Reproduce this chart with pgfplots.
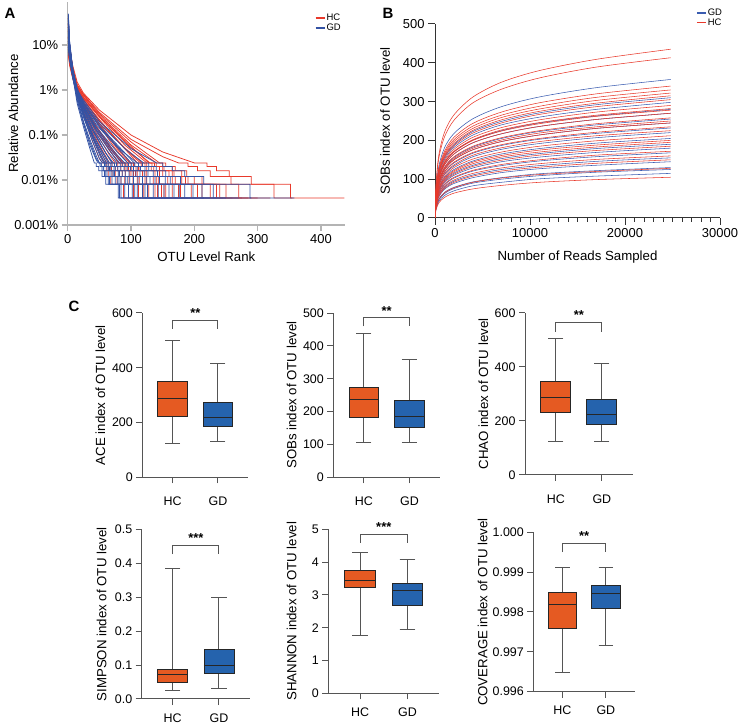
\documentclass[border=0pt]{standalone}
\usepackage{fontspec}
\setmainfont{Liberation Sans}
\usepackage{pgfplots}
\pgfplotsset{compat=1.18}
\usepgfplotslibrary{statistics}

\definecolor{hcred}{HTML}{E8392B}
\definecolor{gdblue}{HTML}{3352A4}
\definecolor{gdblueB}{HTML}{3A5CB0}
\definecolor{boxO}{HTML}{E55A22}
\definecolor{boxB}{HTML}{2563AD}
\definecolor{axgrayA}{HTML}{B4B4B4}
\definecolor{axdark}{HTML}{555555}
\definecolor{axblack}{HTML}{333333}

\newcommand\tickfont{\fontsize{12.5}{14}\selectfont}
\newcommand\labfont{\fontsize{13.3}{15}\selectfont}
\newcommand\abfont{\fontsize{13}{15}\selectfont}

\pgfplotsset{
  every axis/.append style={scale only axis, anchor=south west,
    /pgf/number format/assume math mode=true,
    tick label style={font=\tickfont, text=black},
    label style={font=\labfont},
    scaled x ticks=false, scaled y ticks=false,
    /pgf/number format/1000 sep={}},
  cax/.style={axis lines=left, axis line style={-, draw=axdark, line width=1bp},
    tick style={draw=axdark, line width=1bp}, tick align=outside,
    major tick length=6bp, xtick={0,1}, xticklabels={HC,GD},
    xmin=-0.67, xmax=1.67, clip=false, ymin=0,
    boxplot/draw direction=y, boxplot/box extend=0.65,
    boxplot/whisker extend=0.33,
    boxplot/every whisker/.style={draw=axdark, line width=1bp},
    boxplot/every median/.style={line width=1bp}},
  row1/.style={xticklabel style={yshift=-10bp}},
  row2/.style={xticklabel style={yshift=-5bp}},
  hcbox/.style={fill=boxO, draw=black!85, line width=0.9bp},
  gdbox/.style={fill=boxB, draw=black!85, line width=0.9bp},
  brk/.style={draw=axdark, line width=1bp},
  hcA/.style={draw=hcred, line width=0.75bp, forget plot},
  gdA/.style={draw=gdblue, line width=0.75bp, forget plot},
  hcB/.style={draw=hcred, line width=0.55bp, smooth, forget plot},
  gdB/.style={draw=gdblueB, line width=0.55bp, smooth, forget plot},
}

\begin{document}
\begin{tikzpicture}
\path[use as bounding box] (0,0) rectangle (740bp,724bp);

% ---------------- Panel A ----------------
\begin{axis}[at={(67.7bp,499bp)}, width=277.3bp, height=222.9bp,
  xmin=0, xmax=438, ymin=1e-5, ymax=0.9, ymode=log,
  axis lines=left, axis line style={-, draw=axgrayA, line width=1.5bp},
  tick style={draw=axgrayA, line width=1.2bp}, tick align=outside, major tick length=6bp,
  tick label style={font=\abfont},
  xtick={0,100,200,300,400}, ytick={1e-5,1e-4,1e-3,1e-2,1e-1},
  yticklabels={0.001\%,0.01\%,0.1\%,1\%,10\%}, yminorticks=false,
  xlabel={OTU Level Rank}, ylabel={Relative Abundance},
  xlabel style={at={(axis description cs:0.5,-0.144)}, anchor=center},
  ylabel style={at={(axis description cs:-0.196,0.5)}, anchor=center},
  legend style={at={(axis description cs:0.89,0.952)}, anchor=north west, draw=none, fill=none,
    font=\fontsize{9.5}{10.5}\selectfont, inner sep=0pt, row sep=-1bp,
    nodes={inner sep=1.2bp}},
  legend cell align=left,
  legend image code/.code={\draw[#1] (0bp,0bp) -- (9bp,0bp);},
]
\addlegendimage{color=hcred, line width=1.6bp}
\addlegendentry{HC}
\addlegendimage{color=gdblue, line width=1.6bp}
\addlegendentry{GD}
\addplot[hcA] coordinates {(1,0.2)(5,0.05)(15,0.015)(25,0.0085)(50,0.0036)(100,0.001)(150,0.00042)(200,2.4e-4)(220,2.4e-4)(220,2e-4)(235,2e-4)(235,1.6e-4)(255,1.6e-4)(255,1.2e-4)(290,1.2e-4)(290,8e-5)(352,8e-5)(352,4e-5)(437,4e-5)};
\addplot[hcA] coordinates {(1,0.15)(3,0.06)(8,0.025)(15,0.013)(25,0.008)(50,0.0032)(100,0.0008)(150,0.00033)(175,2.4e-4)(190,2.4e-4)(190,2e-4)(205,2e-4)(205,1.6e-4)(225,1.6e-4)(225,1.2e-4)(258,1.2e-4)(258,8e-5)(326,8e-5)(326,4e-5)(355,4e-5)};
\addplot[hcA] coordinates {(1,0.22)(3,0.08)(8,0.028)(15,0.013)(25,0.0078)(50,0.003)(100,0.0007)(145,2.4e-4)(155,2.4e-4)(155,2e-4)(170,2e-4)(170,1.6e-4)(188,1.6e-4)(188,1.2e-4)(212,1.2e-4)(212,8e-5)(270,8e-5)(270,4e-5)(320,4e-5)};
\addplot[hcA] coordinates {(1,0.25)(3,0.08)(8,0.03)(15,0.013)(25,0.0075)(50,0.0028)(100,0.0006)(140,2.4e-4)(150,2.4e-4)(150,2e-4)(165,2e-4)(165,1.6e-4)(180,1.6e-4)(180,1.2e-4)(200,1.2e-4)(200,8e-5)(250,8e-5)(250,4e-5)(300,4e-5)};
\addplot[hcA] coordinates {(1,0.09)(3,0.045)(8,0.021)(15,0.011)(25,0.0068)(50,0.0026)(95,0.00065)(128,2.4e-4)(137,2.4e-4)(137,2e-4)(150,2e-4)(150,1.6e-4)(165,1.6e-4)(165,1.2e-4)(186,1.2e-4)(186,8e-5)(240,8e-5)(240,4e-5)(285,4e-5)};
\addplot[hcA] coordinates {(1,0.14)(3,0.06)(8,0.024)(15,0.012)(25,0.007)(50,0.0026)(95,0.0006)(130,2.4e-4)(140,2.4e-4)(140,2e-4)(152,2e-4)(152,1.6e-4)(168,1.6e-4)(168,1.2e-4)(190,1.2e-4)(190,8e-5)(235,8e-5)(235,4e-5)(275,4e-5)};
\addplot[hcA] coordinates {(1,0.1)(3,0.05)(8,0.022)(15,0.011)(25,0.0065)(50,0.0025)(90,0.0006)(125,2.4e-4)(133,2.4e-4)(133,2e-4)(145,2e-4)(145,1.6e-4)(160,1.6e-4)(160,1.2e-4)(180,1.2e-4)(180,8e-5)(225,8e-5)(225,4e-5)(260,4e-5)};
\addplot[hcA] coordinates {(1,0.28)(3,0.09)(8,0.028)(15,0.012)(25,0.0062)(50,0.0021)(88,0.00055)(118,2.4e-4)(125,2.4e-4)(125,2e-4)(136,2e-4)(136,1.6e-4)(150,1.6e-4)(150,1.2e-4)(170,1.2e-4)(170,8e-5)(212,8e-5)(212,4e-5)(250,4e-5)};
\addplot[hcA] coordinates {(1,0.3)(3,0.1)(8,0.03)(15,0.012)(25,0.006)(50,0.002)(90,0.0005)(115,2.4e-4)(122,2.4e-4)(122,2e-4)(132,2e-4)(132,1.6e-4)(145,1.6e-4)(145,1.2e-4)(165,1.2e-4)(165,8e-5)(205,8e-5)(205,4e-5)(245,4e-5)};
\addplot[hcA] coordinates {(1,0.08)(3,0.04)(8,0.02)(15,0.01)(25,0.006)(50,0.0022)(85,0.0006)(110,2.4e-4)(116,2.4e-4)(116,2e-4)(125,2e-4)(125,1.6e-4)(138,1.6e-4)(138,1.2e-4)(158,1.2e-4)(158,8e-5)(195,8e-5)(195,4e-5)(230,4e-5)};
\addplot[hcA] coordinates {(1,0.2)(3,0.07)(8,0.025)(15,0.011)(25,0.0055)(50,0.0018)(80,0.0005)(100,2.4e-4)(106,2.4e-4)(106,2e-4)(114,2e-4)(114,1.6e-4)(125,1.6e-4)(125,1.2e-4)(143,1.2e-4)(143,8e-5)(178,8e-5)(178,4e-5)(215,4e-5)};
\addplot[hcA] coordinates {(1,0.16)(3,0.06)(8,0.023)(15,0.01)(25,0.0052)(50,0.0017)(78,0.0005)(98,2.4e-4)(104,2.4e-4)(104,2e-4)(112,2e-4)(112,1.6e-4)(122,1.6e-4)(122,1.2e-4)(140,1.2e-4)(140,8e-5)(175,8e-5)(175,4e-5)(210,4e-5)};
\addplot[hcA] coordinates {(1,0.12)(3,0.05)(8,0.02)(15,0.009)(25,0.005)(50,0.0016)(75,0.0005)(95,2.4e-4)(100,2.4e-4)(100,2e-4)(108,2e-4)(108,1.6e-4)(118,1.6e-4)(118,1.2e-4)(135,1.2e-4)(135,8e-5)(165,8e-5)(165,4e-5)(200,4e-5)};
\addplot[hcA] coordinates {(1,0.35)(3,0.1)(8,0.03)(15,0.011)(25,0.005)(45,0.0016)(70,0.0005)(88,2.4e-4)(94,2.4e-4)(94,2e-4)(101,2e-4)(101,1.6e-4)(110,1.6e-4)(110,1.2e-4)(125,1.2e-4)(125,8e-5)(155,8e-5)(155,4e-5)(190,4e-5)};
\addplot[hcA] coordinates {(1,0.11)(3,0.05)(8,0.02)(15,0.009)(25,0.0047)(45,0.0015)(70,0.00048)(86,2.4e-4)(92,2.4e-4)(92,2e-4)(99,2e-4)(99,1.6e-4)(107,1.6e-4)(107,1.2e-4)(122,1.2e-4)(122,8e-5)(152,8e-5)(152,4e-5)(185,4e-5)};
\addplot[hcA] coordinates {(1,0.06)(3,0.035)(8,0.018)(15,0.009)(25,0.0048)(45,0.0015)(70,0.00045)(85,2.4e-4)(90,2.4e-4)(90,2e-4)(96,2e-4)(96,1.6e-4)(104,1.6e-4)(104,1.2e-4)(118,1.2e-4)(118,8e-5)(148,8e-5)(148,4e-5)(178,4e-5)};
\addplot[hcA] coordinates {(1,0.3)(3,0.09)(8,0.027)(15,0.01)(25,0.0044)(45,0.0013)(66,0.00045)(81,2.4e-4)(86,2.4e-4)(86,2e-4)(92,2e-4)(92,1.6e-4)(100,1.6e-4)(100,1.2e-4)(113,1.2e-4)(113,8e-5)(142,8e-5)(142,4e-5)(170,4e-5)};
\addplot[hcA] coordinates {(1,0.18)(3,0.07)(8,0.025)(15,0.01)(25,0.0045)(45,0.0013)(65,0.0005)(80,2.4e-4)(84,2.4e-4)(84,2e-4)(90,2e-4)(90,1.6e-4)(98,1.6e-4)(98,1.2e-4)(110,1.2e-4)(110,8e-5)(138,8e-5)(138,4e-5)(165,4e-5)};
\addplot[hcA] coordinates {(1,0.1)(3,0.05)(8,0.02)(15,0.009)(25,0.004)(45,0.0011)(65,0.00038)(75,2.4e-4)(79,2.4e-4)(79,2e-4)(84,2e-4)(84,1.6e-4)(91,1.6e-4)(91,1.2e-4)(103,1.2e-4)(103,8e-5)(128,8e-5)(128,4e-5)(155,4e-5)};
\addplot[hcA] coordinates {(1,0.25)(3,0.08)(8,0.025)(15,0.009)(25,0.0038)(40,0.0012)(60,0.0004)(70,2.4e-4)(74,2.4e-4)(74,2e-4)(79,2e-4)(79,1.6e-4)(86,1.6e-4)(86,1.2e-4)(97,1.2e-4)(97,8e-5)(120,8e-5)(120,4e-5)(145,4e-5)};
\addplot[hcA] coordinates {(1,0.15)(3,0.06)(8,0.02)(15,0.008)(25,0.0035)(40,0.0011)(55,0.00045)(66,2.4e-4)(70,2.4e-4)(70,2e-4)(75,2e-4)(75,1.6e-4)(81,1.6e-4)(81,1.2e-4)(90,1.2e-4)(90,8e-5)(112,8e-5)(112,4e-5)(135,4e-5)};
\addplot[hcA] coordinates {(1,0.4)(3,0.1)(8,0.025)(15,0.008)(25,0.003)(40,0.0009)(55,0.00035)(62,2.4e-4)(65,2.4e-4)(65,2e-4)(69,2e-4)(69,1.6e-4)(75,1.6e-4)(75,1.2e-4)(84,1.2e-4)(84,8e-5)(104,8e-5)(104,4e-5)(125,4e-5)};
\addplot[hcA] coordinates {(1,0.07)(3,0.04)(8,0.018)(15,0.008)(25,0.0032)(40,0.0009)(52,0.00035)(58,2.4e-4)(61,2.4e-4)(61,2e-4)(65,2e-4)(65,1.6e-4)(70,1.6e-4)(70,1.2e-4)(78,1.2e-4)(78,8e-5)(96,8e-5)(96,4e-5)(115,4e-5)};
\addplot[hcA] coordinates {(1,0.2)(3,0.07)(8,0.022)(15,0.008)(25,0.0028)(38,0.0008)(50,0.0003)(55,2.4e-4)(58,2.4e-4)(58,2e-4)(61,2e-4)(61,1.6e-4)(64,1.6e-4)(64,1.2e-4)(68,1.2e-4)(68,8e-5)(88,8e-5)(88,4e-5)(105,4e-5)};
% GD
\addplot[gdA] coordinates {(1,0.12)(3,0.05)(8,0.02)(15,0.01)(25,0.006)(50,0.002)(100,0.0005)(140,2.4e-4)(150,2.4e-4)(150,2e-4)(165,2e-4)(165,1.6e-4)(185,1.6e-4)(185,1.2e-4)(215,1.2e-4)(215,8e-5)(288,8e-5)(288,4e-5)(358,4e-5)};
\addplot[gdA] coordinates {(1,0.2)(3,0.07)(8,0.025)(15,0.01)(25,0.0055)(50,0.0018)(90,0.0005)(120,2.4e-4)(128,2.4e-4)(128,2e-4)(140,2e-4)(140,1.6e-4)(155,1.6e-4)(155,1.2e-4)(178,1.2e-4)(178,8e-5)(230,8e-5)(230,4e-5)(290,4e-5)};
\addplot[gdA] coordinates {(1,0.3)(3,0.09)(8,0.028)(15,0.011)(25,0.005)(50,0.0015)(85,0.00045)(110,2.4e-4)(118,2.4e-4)(118,2e-4)(128,2e-4)(128,1.6e-4)(142,1.6e-4)(142,1.2e-4)(162,1.2e-4)(162,8e-5)(212,8e-5)(212,4e-5)(270,4e-5)};
\addplot[gdA] coordinates {(1,0.16)(3,0.06)(8,0.022)(15,0.0095)(25,0.0052)(50,0.0016)(85,0.00048)(105,2.4e-4)(112,2.4e-4)(112,2e-4)(122,2e-4)(122,1.6e-4)(135,1.6e-4)(135,1.2e-4)(154,1.2e-4)(154,8e-5)(198,8e-5)(198,4e-5)(250,4e-5)};
\addplot[gdA] coordinates {(1,0.09)(3,0.045)(8,0.02)(15,0.009)(25,0.005)(45,0.0017)(80,0.0005)(100,2.4e-4)(106,2.4e-4)(106,2e-4)(115,2e-4)(115,1.6e-4)(127,1.6e-4)(127,1.2e-4)(145,1.2e-4)(145,8e-5)(185,8e-5)(185,4e-5)(235,4e-5)};
\addplot[gdA] coordinates {(1,0.35)(3,0.1)(8,0.028)(15,0.01)(25,0.0046)(45,0.0015)(78,0.00042)(95,2.4e-4)(101,2.4e-4)(101,2e-4)(110,2e-4)(110,1.6e-4)(121,1.6e-4)(121,1.2e-4)(138,1.2e-4)(138,8e-5)(176,8e-5)(176,4e-5)(225,4e-5)};
\addplot[gdA] coordinates {(1,0.25)(3,0.08)(8,0.025)(15,0.01)(25,0.0045)(45,0.0014)(75,0.0004)(90,2.4e-4)(96,2.4e-4)(96,2e-4)(104,2e-4)(104,1.6e-4)(114,1.6e-4)(114,1.2e-4)(130,1.2e-4)(130,8e-5)(168,8e-5)(168,4e-5)(215,4e-5)};
\addplot[gdA] coordinates {(1,0.11)(3,0.05)(8,0.02)(15,0.0085)(25,0.0042)(45,0.0013)(72,0.0004)(86,2.4e-4)(91,2.4e-4)(91,2e-4)(99,2e-4)(99,1.6e-4)(108,1.6e-4)(108,1.2e-4)(124,1.2e-4)(124,8e-5)(160,8e-5)(160,4e-5)(205,4e-5)};
\addplot[gdA] coordinates {(1,0.15)(3,0.06)(8,0.022)(15,0.009)(25,0.004)(45,0.0012)(70,0.00038)(82,2.4e-4)(87,2.4e-4)(87,2e-4)(94,2e-4)(94,1.6e-4)(103,1.6e-4)(103,1.2e-4)(118,1.2e-4)(118,8e-5)(152,8e-5)(152,4e-5)(195,4e-5)};
\addplot[gdA] coordinates {(1,0.22)(3,0.08)(8,0.024)(15,0.009)(25,0.0038)(42,0.0012)(65,0.0004)(78,2.4e-4)(83,2.4e-4)(83,2e-4)(89,2e-4)(89,1.6e-4)(97,1.6e-4)(97,1.2e-4)(111,1.2e-4)(111,8e-5)(143,8e-5)(143,4e-5)(185,4e-5)};
\addplot[gdA] coordinates {(1,0.4)(3,0.1)(8,0.03)(15,0.01)(25,0.004)(40,0.0013)(60,0.0004)(72,2.4e-4)(77,2.4e-4)(77,2e-4)(83,2e-4)(83,1.6e-4)(91,1.6e-4)(91,1.2e-4)(104,1.2e-4)(104,8e-5)(135,8e-5)(135,4e-5)(175,4e-5)};
\addplot[gdA] coordinates {(1,0.1)(3,0.05)(8,0.02)(15,0.008)(25,0.0035)(40,0.0012)(60,0.0004)(70,2.4e-4)(74,2.4e-4)(74,2e-4)(79,2e-4)(79,1.6e-4)(86,1.6e-4)(86,1.2e-4)(98,1.2e-4)(98,8e-5)(126,8e-5)(126,4e-5)(165,4e-5)};
\addplot[gdA] coordinates {(1,0.38)(3,0.11)(8,0.028)(15,0.009)(25,0.0032)(40,0.001)(57,0.00038)(66,2.4e-4)(70,2.4e-4)(70,2e-4)(75,2e-4)(75,1.6e-4)(82,1.6e-4)(82,1.2e-4)(94,1.2e-4)(94,8e-5)(122,8e-5)(122,4e-5)(160,4e-5)};
\addplot[gdA] coordinates {(1,0.3)(3,0.09)(8,0.025)(15,0.008)(25,0.003)(40,0.001)(55,0.0004)(64,2.4e-4)(68,2.4e-4)(68,2e-4)(73,2e-4)(73,1.6e-4)(80,1.6e-4)(80,1.2e-4)(91,1.2e-4)(91,8e-5)(118,8e-5)(118,4e-5)(155,4e-5)};
\addplot[gdA] coordinates {(1,0.18)(3,0.07)(8,0.022)(15,0.008)(25,0.003)(40,0.0009)(55,0.00035)(61,2.4e-4)(64,2.4e-4)(64,2e-4)(68,2e-4)(68,1.6e-4)(74,1.6e-4)(74,1.2e-4)(84,1.2e-4)(84,8e-5)(110,8e-5)(110,4e-5)(145,4e-5)};
\addplot[gdA] coordinates {(1,0.14)(3,0.06)(8,0.02)(15,0.0075)(25,0.0028)(40,0.00085)(53,0.00034)(59,2.4e-4)(62,2.4e-4)(62,2e-4)(66,2e-4)(66,1.6e-4)(72,1.6e-4)(72,1.2e-4)(81,1.2e-4)(81,8e-5)(106,8e-5)(106,4e-5)(140,4e-5)};
\addplot[gdA] coordinates {(1,0.5)(3,0.12)(8,0.03)(15,0.008)(25,0.0025)(40,0.0008)(52,0.00032)(57,2.4e-4)(60,2.4e-4)(60,2e-4)(64,2e-4)(64,1.6e-4)(70,1.6e-4)(70,1.2e-4)(79,1.2e-4)(79,8e-5)(102,8e-5)(102,4e-5)(135,4e-5)};
\addplot[gdA] coordinates {(1,0.12)(3,0.05)(8,0.018)(15,0.007)(25,0.0025)(38,0.0008)(50,0.0003)(55,2.4e-4)(58,2.4e-4)(58,2e-4)(62,2e-4)(62,1.6e-4)(67,1.6e-4)(67,1.2e-4)(75,1.2e-4)(75,8e-5)(96,8e-5)(96,4e-5)(125,4e-5)};
\addplot[gdA] coordinates {(1,0.35)(3,0.1)(8,0.025)(15,0.007)(25,0.002)(35,0.0008)(45,0.00035)(50,2.4e-4)(53,2.4e-4)(53,2e-4)(57,2e-4)(57,1.6e-4)(62,1.6e-4)(62,1.2e-4)(70,1.2e-4)(70,8e-5)(90,8e-5)(90,4e-5)(115,4e-5)};
\addplot[gdA] coordinates {(1,0.2)(3,0.07)(8,0.02)(15,0.006)(25,0.0018)(35,0.0007)(45,0.0003)(50,2.4e-4)(53,2.4e-4)(53,2e-4)(56,2e-4)(56,1.6e-4)(60,1.6e-4)(60,1.2e-4)(66,1.2e-4)(66,8e-5)(84,8e-5)(84,4e-5)(105,4e-5)};
\addplot[gdA] coordinates {(1,0.45)(3,0.12)(8,0.025)(15,0.006)(25,0.0018)(35,0.0006)(45,2.8e-4)(48,2.4e-4)(51,2.4e-4)(51,2e-4)(54,2e-4)(54,1.6e-4)(58,1.6e-4)(58,1.2e-4)(64,1.2e-4)(64,8e-5)(82,8e-5)(82,4e-5)(95,4e-5)};
\addplot[gdA] coordinates {(1,0.3)(3,0.09)(8,0.02)(15,0.005)(25,0.0015)(35,0.0005)(42,2.4e-4)(45,2.4e-4)(45,2e-4)(49,2e-4)(49,1.6e-4)(54,1.6e-4)(54,1.2e-4)(60,1.2e-4)(60,8e-5)(80,8e-5)(80,4e-5)(88,4e-5)};
\end{axis}

% ---------------- Panel B ----------------
\begin{axis}[at={(435bp,506bp)}, width=285bp, height=194bp,
  xmin=0, xmax=30000, ymin=0, ymax=500,
  axis lines=left, axis line style={-, draw=axblack, line width=1bp},
  tick style={draw=axblack, line width=1bp}, tick align=outside,
  major tick length=7bp, minor tick length=4bp,
  tick label style={font=\abfont},
  xtick={0,10000,20000,30000}, minor x tick num=9,
  ytick={0,100,200,300,400,500},
  xlabel={Number of Reads Sampled}, ylabel={SOBs index of OTU level},
  xlabel style={at={(axis description cs:0.5,-0.201)}, anchor=center},
  ylabel style={at={(axis description cs:-0.175,0.5)}, anchor=center},
  legend style={at={(axis description cs:0.915,1.085)}, anchor=north west, draw=none, fill=none,
    font=\fontsize{9.5}{10.5}\selectfont, inner sep=0pt, row sep=-1bp,
    nodes={inner sep=1.2bp}},
  legend cell align=left,
  legend image code/.code={\draw[#1] (0bp,0bp) -- (9bp,0bp);},
]
\addlegendimage{color=gdblueB, line width=1.6bp}
\addlegendentry{GD}
\addlegendimage{color=hcred, line width=1.6bp}
\addlegendentry{HC}
\addplot[gdB] coordinates {(0,0)(100,70)(400,133)(1000,181)(2000,218)(4000,256)(7000,287)(11000,312)(17000,336)(24800,357)};
\addplot[gdB] coordinates {(0,0)(100,60)(400,116)(1000,157)(2000,189)(4000,223)(7000,249)(11000,271)(17000,292)(24800,310)};
\addplot[gdB] coordinates {(0,0)(100,58)(400,111)(1000,151)(2000,182)(4000,214)(7000,240)(11000,260)(17000,280)(24800,298)};
\addplot[gdB] coordinates {(0,0)(100,55)(400,104)(1000,142)(2000,171)(4000,201)(7000,225)(11000,245)(17000,263)(24800,280)};
\addplot[gdB] coordinates {(0,0)(100,53)(400,101)(1000,137)(2000,165)(4000,194)(7000,217)(11000,236)(17000,254)(24800,270)};
\addplot[gdB] coordinates {(0,0)(100,50)(400,95)(1000,129)(2000,156)(4000,183)(7000,205)(11000,223)(17000,240)(24800,255)};
\addplot[gdB] coordinates {(0,0)(100,48)(400,91)(1000,124)(2000,150)(4000,176)(7000,197)(11000,214)(17000,231)(24800,245)};
\addplot[gdB] coordinates {(0,0)(100,45)(400,87)(1000,118)(2000,142)(4000,167)(7000,187)(11000,203)(17000,218)(24800,232)};
\addplot[gdB] coordinates {(0,0)(100,43)(400,82)(1000,112)(2000,134)(4000,158)(7000,177)(11000,192)(17000,207)(24800,220)};
\addplot[gdB] coordinates {(0,0)(100,40)(400,76)(1000,104)(2000,125)(4000,147)(7000,165)(11000,179)(17000,193)(24800,205)};
\addplot[gdB] coordinates {(0,0)(100,37)(400,71)(1000,96)(2000,116)(4000,136)(7000,153)(11000,166)(17000,179)(24800,190)};
\addplot[gdB] coordinates {(0,0)(100,35)(400,67)(1000,91)(2000,110)(4000,129)(7000,145)(11000,157)(17000,169)(24800,180)};
\addplot[gdB] coordinates {(0,0)(100,33)(400,63)(1000,85)(2000,103)(4000,121)(7000,135)(11000,147)(17000,158)(24800,168)};
\addplot[gdB] coordinates {(0,0)(100,30)(400,58)(1000,79)(2000,95)(4000,111)(7000,125)(11000,135)(17000,146)(24800,155)};
\addplot[gdB] coordinates {(0,0)(100,28)(400,54)(1000,74)(2000,89)(4000,104)(7000,117)(11000,127)(17000,136)(24800,145)};
\addplot[gdB] coordinates {(0,0)(100,25)(400,48)(1000,66)(2000,79)(4000,93)(7000,104)(11000,114)(17000,122)(24800,130)};
\addplot[gdB] coordinates {(0,0)(100,24)(400,47)(1000,63)(2000,76)(4000,90)(7000,100)(11000,109)(17000,118)(24800,125)};
\addplot[gdB] coordinates {(0,0)(100,22)(400,43)(1000,58)(2000,70)(4000,83)(7000,92)(11000,101)(17000,108)(24800,115)};
% HC
\addplot[hcB] coordinates {(0,0)(100,85)(400,162)(1000,221)(2000,266)(4000,312)(7000,350)(11000,380)(17000,409)(24800,435)};
\addplot[hcB] coordinates {(0,0)(100,81)(400,154)(1000,209)(2000,252)(4000,297)(7000,332)(11000,361)(17000,389)(24800,413)};
\addplot[hcB] coordinates {(0,0)(100,66)(400,127)(1000,172)(2000,208)(4000,244)(7000,273)(11000,297)(17000,320)(24800,340)};
\addplot[hcB] coordinates {(0,0)(100,64)(400,123)(1000,167)(2000,202)(4000,237)(7000,265)(11000,288)(17000,311)(24800,330)};
\addplot[hcB] coordinates {(0,0)(100,63)(400,120)(1000,163)(2000,197)(4000,231)(7000,259)(11000,281)(17000,303)(24800,322)};
\addplot[hcB] coordinates {(0,0)(100,61)(400,118)(1000,160)(2000,192)(4000,226)(7000,253)(11000,275)(17000,296)(24800,315)};
\addplot[hcB] coordinates {(0,0)(100,59)(400,114)(1000,155)(2000,186)(4000,219)(7000,245)(11000,267)(17000,287)(24800,305)};
\addplot[hcB] coordinates {(0,0)(100,57)(400,108)(1000,147)(2000,177)(4000,208)(7000,233)(11000,253)(17000,273)(24800,290)};
\addplot[hcB] coordinates {(0,0)(100,55)(400,105)(1000,143)(2000,172)(4000,202)(7000,227)(11000,246)(17000,265)(24800,282)};
\addplot[hcB] coordinates {(0,0)(100,54)(400,104)(1000,141)(2000,170)(4000,200)(7000,224)(11000,243)(17000,262)(24800,278)};
\addplot[hcB] coordinates {(0,0)(100,53)(400,101)(1000,137)(2000,165)(4000,194)(7000,217)(11000,236)(17000,254)(24800,270)};
\addplot[hcB] coordinates {(0,0)(100,50)(400,96)(1000,131)(2000,158)(4000,185)(7000,207)(11000,225)(17000,243)(24800,258)};
\addplot[hcB] coordinates {(0,0)(100,49)(400,93)(1000,127)(2000,153)(4000,180)(7000,201)(11000,219)(17000,235)(24800,250)};
\addplot[hcB] coordinates {(0,0)(100,48)(400,91)(1000,124)(2000,150)(4000,176)(7000,197)(11000,214)(17000,231)(24800,245)};
\addplot[hcB] coordinates {(0,0)(100,46)(400,88)(1000,119)(2000,144)(4000,169)(7000,189)(11000,205)(17000,221)(24800,235)};
\addplot[hcB] coordinates {(0,0)(100,44)(400,84)(1000,114)(2000,137)(4000,162)(7000,181)(11000,197)(17000,212)(24800,225)};
\addplot[hcB] coordinates {(0,0)(100,41)(400,79)(1000,107)(2000,130)(4000,152)(7000,170)(11000,185)(17000,199)(24800,212)};
\addplot[hcB] coordinates {(0,0)(100,39)(400,75)(1000,101)(2000,122)(4000,144)(7000,161)(11000,175)(17000,188)(24800,200)};
\addplot[hcB] coordinates {(0,0)(100,38)(400,73)(1000,99)(2000,119)(4000,140)(7000,157)(11000,170)(17000,183)(24800,195)};
\addplot[hcB] coordinates {(0,0)(100,36)(400,69)(1000,94)(2000,113)(4000,133)(7000,149)(11000,162)(17000,174)(24800,185)};
\addplot[hcB] coordinates {(0,0)(100,34)(400,64)(1000,87)(2000,105)(4000,123)(7000,138)(11000,150)(17000,162)(24800,172)};
\addplot[hcB] coordinates {(0,0)(100,31)(400,60)(1000,81)(2000,98)(4000,115)(7000,129)(11000,140)(17000,151)(24800,160)};
\addplot[hcB] coordinates {(0,0)(100,29)(400,56)(1000,76)(2000,92)(4000,108)(7000,121)(11000,131)(17000,141)(24800,150)};
\addplot[hcB] coordinates {(0,0)(100,25)(400,48)(1000,65)(2000,78)(4000,92)(7000,103)(11000,112)(17000,120)(24800,128)};
\addplot[hcB] coordinates {(0,0)(100,20)(400,39)(1000,53)(2000,64)(4000,75)(7000,84)(11000,92)(17000,99)(24800,105)};
\end{axis}

% ---------------- Panel C, row 1 ----------------
\begin{axis}[cax, row1, at={(142.3bp,246.7bp)}, width=106bp, height=164.3bp,
  ymax=600, ytick={0,200,400,600}, ylabel={ACE index of OTU level},
  ylabel style={at={(axis description cs:-0.396,0.5)}, anchor=center}]
\addplot[hcbox, boxplot prepared={draw position=0, lower whisker=124, lower quartile=223, median=288, upper quartile=349, upper whisker=500}] coordinates {};
\addplot[gdbox, boxplot prepared={draw position=1, lower whisker=129, lower quartile=184, median=220, upper quartile=273, upper whisker=415}] coordinates {};
\addplot[brk] coordinates {(0,543)(0,572)(1,572)(1,543)};
\node[font=\bfseries\fontsize{13}{14}\selectfont] at (axis cs:0.5,600) {**};
\end{axis}

\begin{axis}[cax, row1, at={(333.3bp,246.7bp)}, width=106.7bp, height=164.3bp,
  ymax=500, ytick={0,100,200,300,400,500}, ylabel={SOBs index of OTU level},
  ylabel style={at={(axis description cs:-0.39,0.5)}, anchor=center}]
\addplot[hcbox, boxplot prepared={draw position=0, lower whisker=105, lower quartile=183, median=238, upper quartile=274, upper whisker=439}] coordinates {};
\addplot[gdbox, boxplot prepared={draw position=1, lower whisker=107, lower quartile=153, median=184, upper quartile=233, upper whisker=357}] coordinates {};
\addplot[brk] coordinates {(0,459)(0,485)(1,485)(1,459)};
\node[font=\bfseries\fontsize{13}{14}\selectfont] at (axis cs:0.5,507) {**};
\end{axis}

\begin{axis}[cax, row1, at={(525bp,249bp)}, width=107.7bp, height=162bp,
  ymax=600, ytick={0,200,400,600}, ylabel={CHAO index of OTU level},
  ylabel style={at={(axis description cs:-0.387,0.5)}, anchor=center}]
\addplot[hcbox, boxplot prepared={draw position=0, lower whisker=125, lower quartile=233, median=287, upper quartile=347, upper whisker=507}] coordinates {};
\addplot[gdbox, boxplot prepared={draw position=1, lower whisker=125, lower quartile=188, median=224, upper quartile=280, upper whisker=412}] coordinates {};
\addplot[brk] coordinates {(0,531)(0,563)(1,563)(1,531)};
\node[font=\bfseries\fontsize{13}{14}\selectfont] at (axis cs:0.5,591) {**};
\end{axis}

% ---------------- Panel C, row 2 ----------------
\begin{axis}[cax, row2, at={(141.7bp,25bp)}, width=108.3bp, height=169.3bp,
  ymax=0.5, ytick={0,0.1,0.2,0.3,0.4,0.5},
  yticklabels={0.0,0.1,0.2,0.3,0.4,0.5}, ylabel={SIMPSON index of OTU level},
  ylabel style={at={(axis description cs:-0.369,0.5)}, anchor=center}]
\addplot[hcbox, boxplot prepared={draw position=0, lower whisker=0.025, lower quartile=0.050, median=0.073, upper quartile=0.087, upper whisker=0.384}] coordinates {};
\addplot[gdbox, boxplot prepared={draw position=1, lower whisker=0.032, lower quartile=0.076, median=0.098, upper quartile=0.146, upper whisker=0.300}] coordinates {};
\addplot[brk] coordinates {(0,0.428)(0,0.454)(1,0.454)(1,0.428)};
\node[font=\bfseries\fontsize{13}{14}\selectfont] at (axis cs:0.5,0.476) {***};
\end{axis}

\begin{axis}[cax, row2, at={(328.3bp,30.7bp)}, width=111bp, height=164bp,
  ymax=5, ytick={0,1,2,3,4,5}, ylabel={SHANNON index of OTU level},
  ylabel style={at={(axis description cs:-0.33,0.5)}, anchor=center}]
\addplot[hcbox, boxplot prepared={draw position=0, lower whisker=1.76, lower quartile=3.23, median=3.45, upper quartile=3.75, upper whisker=4.30}] coordinates {};
\addplot[gdbox, boxplot prepared={draw position=1, lower whisker=1.93, lower quartile=2.69, median=3.14, upper quartile=3.36, upper whisker=4.07}] coordinates {};
\addplot[brk] coordinates {(0,4.59)(0,4.85)(1,4.85)(1,4.59)};
\node[font=\bfseries\fontsize{13}{14}\selectfont] at (axis cs:0.5,5.08) {***};
\end{axis}

\begin{axis}[cax, row2, at={(533.3bp,32.3bp)}, width=101.7bp, height=159.4bp,
  ymin=0.996, ymax=1.000, ytick={0.996,0.997,0.998,0.999,1.000},
  yticklabels={0.996,0.997,0.998,0.999,1.000}, ylabel={COVERAGE index of OTU level},
  ylabel style={at={(axis description cs:-0.497,0.5)}, anchor=center}]
\addplot[hcbox, boxplot prepared={draw position=0, lower whisker=0.99648, lower quartile=0.99759, median=0.99819, upper quartile=0.99849, upper whisker=0.99912}] coordinates {};
\addplot[gdbox, boxplot prepared={draw position=1, lower whisker=0.99716, lower quartile=0.99808, median=0.99847, upper quartile=0.99866, upper whisker=0.99912}] coordinates {};
\addplot[brk] coordinates {(0,0.9995)(0,0.99972)(1,0.99972)(1,0.9995)};
\node[font=\bfseries\fontsize{13}{14}\selectfont] at (axis cs:0.5,0.99991) {**};
\end{axis}

% panel letters
\node[font=\bfseries\fontsize{15}{17}\selectfont] at (10bp,711bp) {A};
\node[font=\bfseries\fontsize{15}{17}\selectfont] at (388bp,711bp) {B};
\node[font=\bfseries\fontsize{15}{17}\selectfont] at (74bp,418bp) {C};
\end{tikzpicture}
\end{document}
